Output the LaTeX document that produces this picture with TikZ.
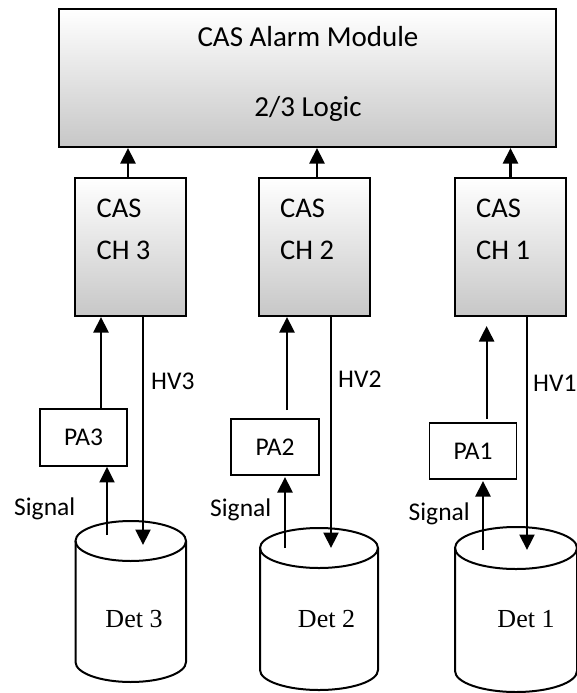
\documentclass[tikz,border=0pt]{standalone}
\usepackage{fontspec}
\setmainfont{Carlito}
\newfontfamily\detfont{Liberation Serif}
\usetikzlibrary{arrows.meta,calc}
\begin{document}
\begin{tikzpicture}[x=1pt,y=-1pt,
  gbox/.style={draw, line width=2pt, top color=white, bottom color=black!22, inner sep=0pt},
  pabox/.style={draw, line width=1.8pt, fill=white, inner sep=0pt, font=\fontsize{25.5}{28}\selectfont},
  arr/.style={line width=2.2pt, -{Triangle[length=15.5pt,width=15pt]}},
  cyl/.style={line width=2pt},
  big/.style={inner sep=0pt, anchor=base, font=\fontsize{29}{32}\selectfont},
  chlab/.style={inner sep=0pt, anchor=base west, font=\fontsize{28.5}{31}\selectfont},
  sml/.style={inner sep=0pt, anchor=base west, font=\fontsize{25.5}{28}\selectfont},
  detlab/.style={inner sep=0pt, anchor=base, font=\detfont\fontsize{26}{28}\selectfont}
]
\useasboundingbox (0,0) rectangle (577,693);

% alarm module
\node[gbox, minimum width=497pt, minimum height=138pt] (alarm) at (307.5,78) {};
\node[big] (t1) at (308,47) {CAS Alarm Module};
\node[big] (t2) at (308,116) {2/3 Logic};

% channel boxes
\node[gbox, minimum width=110.6pt, minimum height=138pt] (ch3) at (130.7,247) {};
\node[gbox, minimum width=110.6pt, minimum height=138pt] (ch2) at (314.2,247) {};
\node[gbox, minimum width=110.6pt, minimum height=138pt] (ch1) at (510.5,247) {};
\node[chlab] (c3a) at (96.4,217) {CAS};
\node[chlab] (c3b) at (96.4,259) {CH 3};
\node[chlab] (c2a) at (280,217) {CAS};
\node[chlab] (c2b) at (280,259) {CH 2};
\node[chlab] (c1a) at (476,217) {CAS};
\node[chlab] (c1b) at (476,259) {CH 1};

% channel -> alarm
\coordinate (u3) at (128,178);
\coordinate (u2) at (317,178);
\coordinate (u1) at (510.5,178);
\draw[arr] (u3) -- (u3 |- alarm.south);
\draw[arr] (u2) -- (u2 |- alarm.south);
\draw[arr] (u1) -- (u1 |- alarm.south);

% preamplifiers
\node[pabox, minimum width=87.6pt, minimum height=57pt] (pa3) at (83.5,437.5) {PA3};
\node[pabox, minimum width=88pt, minimum height=56pt] (pa2) at (275,447) {PA2};
\node[pabox, minimum width=87pt, minimum height=56pt] (pa1) at (473,451) {PA1};

% PA -> channel
\coordinate (p3) at (101,409);
\coordinate (p2) at (287,410);
\coordinate (p1) at (486.6,419);
\coordinate (p1e) at (486.6,326);
\draw[arr] (p3) -- (p3 |- ch3.south);
\draw[arr] (p2) -- (p2 |- ch2.south);
\draw[arr] (p1) -- (p1e);

% HV lines
\coordinate (h3) at (143,545);
\coordinate (h2) at (331,548);
\coordinate (h1) at (527,550);
\draw[arr] (h3 |- ch3.south) -- (h3);
\draw[arr] (h2 |- ch2.south) -- (h2);
\draw[arr] (h1 |- ch1.south) -- (h1);
\node[sml] (hv3) at (151,389) {HV3};
\node[sml] (hv2) at (338,387) {HV2};
\node[sml] (hv1) at (533,391) {HV1};

% signal lines
\coordinate (s3) at (107,535);
\coordinate (s2) at (285,548);
\coordinate (s2e) at (285,477);
\coordinate (s1) at (483,550);
\coordinate (s1e) at (483,481);
\draw[arr] (s3) -- (s3 |- pa3.south);
\draw[arr] (s2) -- (s2e);
\draw[arr] (s1) -- (s1e);
\node[sml] (sg3) at (14,515.5) {Signal};
\node[sml] (sg2) at (210,516) {Signal};
\node[sml] (sg1) at (408.5,520) {Signal};

% detectors (cylinders)
\draw[cyl] (130.75,541) ellipse [x radius=55.25, y radius=20];
\draw[cyl] (75.5,541) -- (75.5,662) arc[start angle=180, end angle=0, x radius=55.25, y radius=20] -- (186,541);
\draw[cyl] (319,548) ellipse [x radius=59, y radius=20];
\draw[cyl] (260,548) -- (260,670) arc[start angle=180, end angle=0, x radius=59, y radius=20] -- (378,548);
\draw[cyl] (516,548) ellipse [x radius=61, y radius=21];
\draw[cyl] (455,548) -- (455,671) arc[start angle=180, end angle=0, x radius=61, y radius=21] -- (577,548);
\node[detlab] (d3) at (134,627) {Det 3};
\node[detlab] (d2) at (326.5,627) {Det 2};
\node[detlab] (d1) at (526,627) {Det 1};
\end{tikzpicture}
\end{document}
